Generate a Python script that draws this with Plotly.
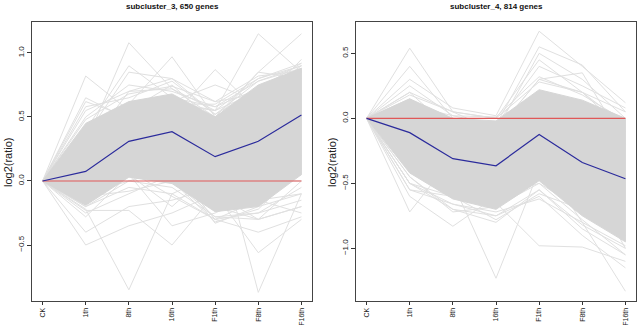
import plotly.graph_objects as go

categories = ["CK", "1th", "8th", "16th", "F1th", "F8th", "F16th"]

# ---- subcluster_3 ----
s3_title = "subcluster_3, 650 genes"
s3_mean = [0.0, 0.075, 0.31, 0.385, 0.19, 0.31, 0.515]
s3_core_hi = [0.0, 0.45, 0.62, 0.68, 0.50, 0.75, 0.88]
s3_core_lo = [0.0, -0.19, 0.03, -0.02, -0.24, -0.20, 0.05]
s3_genes = [
    [0, 0.82, 0.55, 0.75, 0.45, 0.65, 0.90],
    [0, 0.65, 0.48, 0.62, 0.55, 0.70, 0.86],
    [0, 0.62, 0.50, 0.60, 0.60, 0.80, 0.92],
    [0, 0.30, 1.08, 0.72, 0.50, 0.60, 0.80],
    [0, 0.40, 0.90, 0.65, 0.58, 0.72, 0.85],
    [0, 0.35, 0.85, 0.80, 0.52, 0.78, 0.90],
    [0, 0.20, 0.60, 0.97, 0.50, 0.70, 0.85],
    [0, 0.25, 0.70, 0.80, 0.62, 0.68, 0.80],
    [0, 0.30, 0.40, 0.50, 0.87, 0.55, 0.70],
    [0, 0.35, 0.55, 0.62, 0.75, 0.62, 0.78],
    [0, 0.40, 0.55, 0.60, 0.55, 1.15, 0.85],
    [0, 0.30, 0.58, 0.65, 0.48, 0.85, 0.80],
    [0, 0.30, 0.50, 0.60, 0.50, 0.85, 1.15],
    [0, 0.25, 0.45, 0.55, 0.45, 0.60, 0.95],
    [0, 0.55, 0.70, 0.72, 0.55, 0.80, 0.90],
    [0, 0.50, 0.75, 0.70, 0.58, 0.78, 0.88],
    [0, 0.58, 0.65, 0.78, 0.52, 0.72, 0.92],
    [0, 0.48, 0.68, 0.74, 0.62, 0.82, 0.86],
    [0, -0.50, -0.35, -0.25, -0.10, -0.30, -0.20],
    [0, -0.40, -0.20, -0.15, -0.05, -0.15, -0.10],
    [0, -0.22, -0.85, -0.10, 0.05, 0.10, 0.20],
    [0, -0.23, -0.23, -0.50, -0.10, -0.20, 0.10],
    [0, -0.10, 0.05, -0.35, -0.25, -0.10, 0.05],
    [0, 0.10, 0.20, 0.10, -0.33, -0.20, -0.10],
    [0, 0.05, 0.30, 0.20, 0.40, -0.87, -0.10],
    [0, 0.10, 0.10, 0.20, -0.10, -0.56, -0.30],
    [0, -0.10, 0.00, 0.10, -0.30, -0.40, -0.28],
    [0, -0.28, 0.05, -0.20, 0.10, 0.10, 0.30],
    [0, -0.15, 0.10, 0.00, -0.28, -0.30, -0.20],
    [0, -0.20, -0.05, -0.10, -0.30, -0.25, -0.15],
    [0, 0.00, 0.10, 0.05, -0.20, 0.00, 0.00],
    [0, -0.20, 0.00, -0.05, -0.28, -0.25, -0.05],
    [0, -0.25, -0.10, 0.05, -0.20, -0.30, 0.00],
    [0, -0.18, 0.08, -0.12, -0.30, -0.15, -0.25],
    [0, -0.12, -0.08, 0.00, -0.32, -0.22, 0.10],
]

# ---- subcluster_4 ----
s4_title = "subcluster_4, 814 genes"
s4_mean = [0.0, -0.11, -0.31, -0.365, -0.125, -0.34, -0.465]
s4_core_hi = [0.0, 0.15, 0.00, -0.02, 0.22, 0.14, 0.00]
s4_core_lo = [0.0, -0.42, -0.62, -0.70, -0.48, -0.75, -0.95]
s4_genes = [
    [0, 0.54, 0.05, -0.10, 0.30, 0.20, -0.10],
    [0, 0.40, 0.00, -0.10, 0.50, 0.30, 0.00],
    [0, 0.30, 0.08, 0.02, 0.67, 0.40, 0.12],
    [0, 0.20, -0.10, -0.05, 0.55, 0.41, 0.05],
    [0, 0.15, -0.05, -0.10, 0.30, 0.35, -0.20],
    [0, 0.25, 0.02, -0.05, 0.40, 0.25, 0.08],
    [0, 0.18, 0.05, 0.00, 0.45, 0.20, -0.05],
    [0, 0.20, 0.05, 0.00, 0.28, 0.20, 0.05],
    [0, 0.10, 0.02, 0.01, 0.32, 0.18, -0.02],
    [0, -0.72, -0.30, -0.50, -0.30, -0.50, -0.80],
    [0, -0.60, -0.83, -0.60, -0.50, -0.70, -0.90],
    [0, -0.30, -0.50, -1.23, -0.40, -0.60, -0.80],
    [0, -0.50, -0.60, -0.65, -0.98, -0.99, -1.10],
    [0, -0.30, -0.55, -0.60, -0.30, -0.80, -1.33],
    [0, -0.50, -0.70, -0.75, -0.60, -0.90, -1.15],
    [0, -0.10, -0.20, -0.30, 0.10, -0.40, -1.00],
    [0, -0.45, -0.70, -0.80, -0.55, -0.85, -1.05],
    [0, -0.55, -0.66, -0.72, -0.62, -0.80, -0.98],
    [0, -0.50, -0.66, -0.75, -0.55, -0.82, -1.00],
    [0, -0.45, -0.72, -0.68, -0.50, -0.78, -1.05],
    [0, -0.55, -0.60, -0.78, -0.58, -0.70, -0.92],
]

panels = [
    dict(title=s3_title, mean=s3_mean, hi=s3_core_hi, lo=s3_core_lo, genes=s3_genes,
         xdom=[32 / 640, 312 / 640], yrange=[-0.9375, 1.242], ticks=[-0.5, 0.0, 0.5, 1.0],
         ylab_x=8),
    dict(title=s4_title, mean=s4_mean, hi=s4_core_hi, lo=s4_core_lo, genes=s4_genes,
         xdom=[356 / 640, 636 / 640], yrange=[-1.405, 0.741], ticks=[-1.0, -0.5, 0.0, 0.5],
         ylab_x=332),
]

GRAY = "#d6d6d6"
LINE_GRAY = "#e0e0e0"
FONT = "Liberation Sans, Arial, sans-serif"
ydom = [1 - 301 / 325, 1 - 22 / 325]

fig = go.Figure()
xs = list(range(len(categories)))
layout = dict(
    width=640, height=325, margin=dict(l=0, r=0, t=0, b=0, autoexpand=False),
    paper_bgcolor="white", plot_bgcolor="white", showlegend=False,
    font=dict(family=FONT, color="#222222"),
)
annotations = []
for i, p in enumerate(panels):
    sfx = "" if i == 0 else str(i + 1)
    xa, ya = "x" + sfx, "y" + sfx
    for g in p["genes"]:
        fig.add_trace(go.Scatter(x=xs, y=g, mode="lines", xaxis=xa, yaxis=ya,
                                 line=dict(color=LINE_GRAY, width=1), hoverinfo="skip"))
    fig.add_trace(go.Scatter(x=xs + xs[::-1], y=p["hi"] + p["lo"][::-1], mode="lines",
                             fill="toself", fillcolor=GRAY, xaxis=xa, yaxis=ya,
                             line=dict(color=GRAY, width=1), hoverinfo="skip"))
    fig.add_trace(go.Scatter(x=[xs[0], xs[-1]], y=[0, 0], mode="lines", xaxis=xa, yaxis=ya,
                             line=dict(color="#e05858", width=1.2)))
    fig.add_trace(go.Scatter(x=xs, y=p["mean"], mode="lines", xaxis=xa, yaxis=ya,
                             line=dict(color="#2b2b9c", width=1.2)))
    layout["xaxis" + sfx] = dict(
        domain=p["xdom"], range=[-0.245, 6.245], anchor=ya, automargin=False,
        tickmode="array", tickvals=xs, ticktext=categories, tickangle=-90,
        ticks="outside", ticklen=3, tickcolor="#333", tickfont=dict(size=7, family=FONT),
        showline=True, linecolor="#444", linewidth=1, mirror=True,
        showgrid=False, zeroline=False, fixedrange=True,
    )
    layout["yaxis" + sfx] = dict(
        domain=ydom, range=p["yrange"], anchor=xa, automargin=False,
        tickmode="array", tickvals=p["ticks"], ticktext=[f"{t:.1f}".replace("-", "\u2212") for t in p["ticks"]],
        tickangle=-90, ticks="outside", ticklen=4, tickcolor="#333",
        tickfont=dict(size=8, family=FONT),
        showline=True, linecolor="#444", linewidth=1, mirror=True,
        showgrid=False, zeroline=False, fixedrange=True,
    )
    cx = (p["xdom"][0] + p["xdom"][1]) / 2
    annotations.append(dict(text="<b>" + p["title"] + "</b>", x=cx, y=1 - 7 / 325,
                            xref="paper", yref="paper", showarrow=False,
                            xanchor="center", yanchor="middle",
                            font=dict(size=8, family=FONT, color="#111")))
    annotations.append(dict(text="log2(ratio)", x=p["ylab_x"] / 640, y=1 - 162 / 325,
                            xref="paper", yref="paper", showarrow=False, textangle=-90,
                            xanchor="center", yanchor="middle",
                            font=dict(size=11, family=FONT, color="#222")))
layout["annotations"] = annotations
fig.update_layout(**layout)
fig.write_html("out.html")
